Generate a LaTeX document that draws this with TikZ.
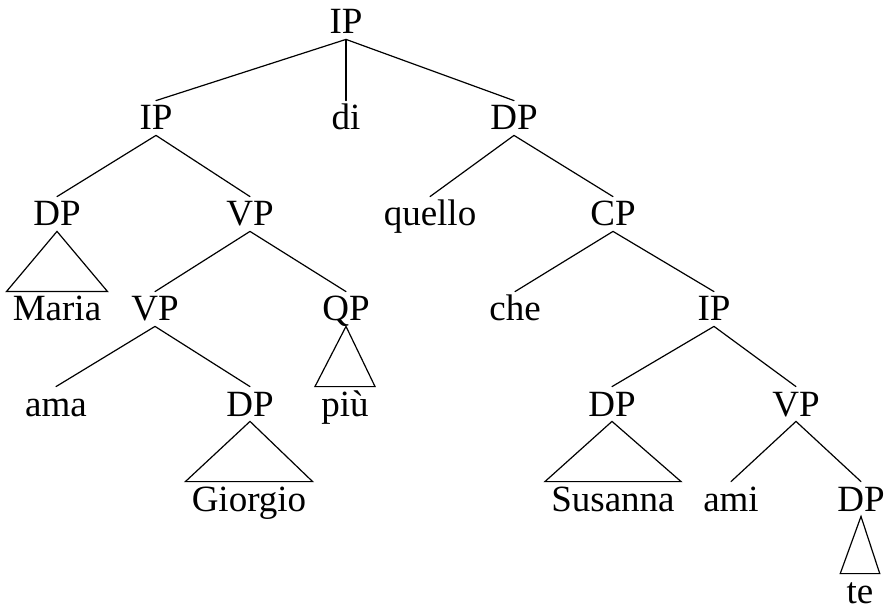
\documentclass[tikz,border=0pt]{standalone}
\usepackage{fontspec}
\setmainfont{Liberation Serif}
\usepackage{tikz}
\tikzset{
  cat/.style={anchor=base, font=\fontsize{18.5}{20}\selectfont, text height=12pt, text depth=0pt, inner ysep=2.5pt, inner xsep=3pt},
  branch/.style={draw=black, line width=0.6pt, line cap=round},
  roof/.style={draw=black, line width=0.6pt, line join=miter},
}

\begin{document}
\begin{tikzpicture}[x=0.5pt,y=-0.5pt]
  \useasboundingbox (0,0) rectangle (885,610);
  % rows of the tree
  \node[cat] (IPa) at (346,34) {IP};
  \node[cat] (IPb) at (156,130) {IP};
  \node[cat] (di) at (346,130) {di};
  \node[cat] (DPa) at (514,130) {DP};
  \node[cat] (DPb) at (57,226) {DP};
  \node[cat] (VPa) at (250,226) {VP};
  \node[cat] (quello) at (430,226) {quello};
  \node[cat] (CP) at (613,226) {CP};
  \node[cat] (Maria) at (57,321) {Maria};
  \node[cat] (VPb) at (155,321) {VP};
  \node[cat] (QP) at (346,321) {QP};
  \node[cat] (che) at (515,321) {che};
  \node[cat] (IPc) at (714,321) {IP};
  \node[cat] (ama) at (56,416) {ama};
  \node[cat] (DPc) at (250,416) {DP};
  \node[cat] (piu) at (345,416) {più};
  \node[cat] (DPd) at (612,416) {DP};
  \node[cat] (VPc) at (796,416) {VP};
  \node[cat] (Giorgio) at (249,511) {Giorgio};
  \node[cat] (Susanna) at (613,511) {Susanna};
  \node[cat] (ami) at (731,511) {ami};
  \node[cat] (DPe) at (861,511) {DP};
  \node[cat] (te) at (860,603) {te};
  % branches
  \foreach \a/\b in {IPa/IPb,IPa/di,IPa/DPa,IPb/DPb,IPb/VPa,DPa/quello,DPa/CP,
    VPa/VPb,VPa/QP,CP/che,CP/IPc,VPb/ama,VPb/DPc,IPc/DPd,IPc/VPc,VPc/ami,VPc/DPe}
    \draw[branch] (\a.south) -- (\b.north);
  % triangles
  \foreach \a/\b in {DPb/Maria,QP/piu,DPc/Giorgio,DPd/Susanna,DPe/te}
    \draw[roof] (\a.south) -- (\b.north west) -- (\b.north east) -- cycle;
\end{tikzpicture}
\end{document}
